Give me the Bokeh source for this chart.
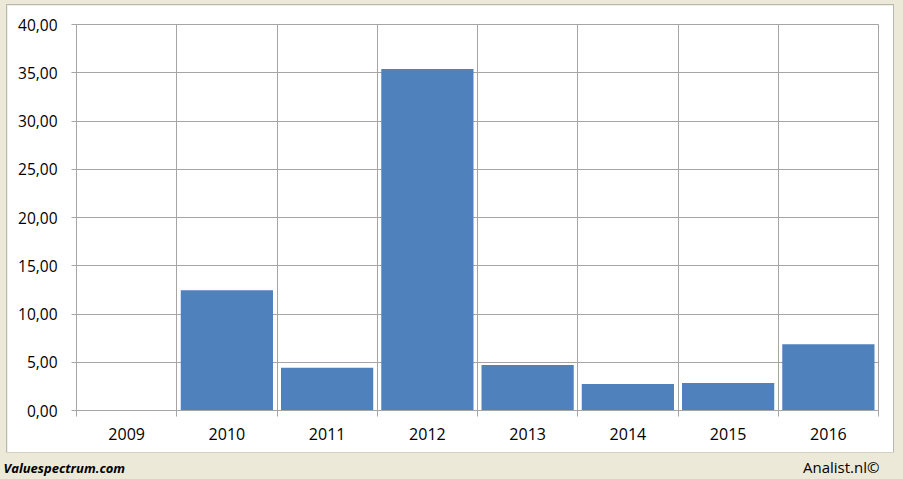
from bokeh.plotting import figure
from bokeh.layouts import column, row
from bokeh.models import FixedTicker, CustomJSTickFormatter, ColumnDataSource, Range1d, Spacer
from bokeh.core.properties import value
from bokeh.embed import file_html
from bokeh.resources import INLINE

years = ["2009", "2010", "2011", "2012", "2013", "2014", "2015", "2016"]
values = [0.0, 12.45, 4.42, 35.4, 4.72, 2.75, 2.85, 6.87]
y_ticks = [0, 5, 10, 15, 20, 25, 30, 35, 40]

BAR = "#4F81BD"
GRID = "#A5A5A5"
BEIGE = "#ECE9D8"
FONT = "Open Sans"

xs = [i + 0.5 for i in range(len(years))]
src = ColumnDataSource(dict(x=xs, top=values, year=years))

p = figure(width=886, height=447, output_backend="svg", toolbar_location=None,
           x_range=Range1d(0, len(years)), y_range=Range1d(0, 40))
p.min_border_left = 69
p.min_border_top = 19
p.min_border_right = 15
p.min_border_bottom = 42
p.border_fill_color = "white"
p.background_fill_color = "white"
p.outline_line_color = GRID
p.styles = {"box-shadow": "0 0 0 1px #B8B8B0"}

p.vbar(x="x", top="top", width=0.92, bottom=0, source=src, fill_color=BAR, line_color=None)

# x axis
xt = FixedTicker(ticks=xs, minor_ticks=list(range(len(years) + 1)))
p.xaxis.ticker = xt
p.xaxis.major_label_overrides = {x: y for x, y in zip(xs, years)}
p.xaxis.major_tick_line_color = None
p.xaxis.major_tick_out = 0
p.xaxis.minor_tick_line_color = GRID
p.xaxis.minor_tick_out = 6
p.xaxis.minor_tick_in = 0
p.xaxis.axis_line_color = GRID
p.xaxis.major_label_text_font = FONT
p.xaxis.major_label_text_font_size = "16px"
p.xaxis.major_label_text_color = "#000000"
p.xaxis.major_label_standoff = 11

# y axis
p.yaxis.ticker = FixedTicker(ticks=y_ticks)
p.yaxis.formatter = CustomJSTickFormatter(code="return tick.toFixed(2).replace('.', ',');")
p.yaxis.major_tick_line_color = GRID
p.yaxis.major_tick_out = 5
p.yaxis.major_tick_in = 0
p.yaxis.minor_tick_line_color = None
p.yaxis.axis_line_color = GRID
p.yaxis.major_label_text_font = FONT
p.yaxis.major_label_text_font_size = "15.5px"
p.yaxis.major_label_text_color = "#000000"
p.yaxis.major_label_standoff = 14

p.xgrid.ticker = FixedTicker(ticks=list(range(len(years) + 1)))
p.ygrid.ticker = FixedTicker(ticks=y_ticks)
p.xgrid.grid_line_color = GRID
p.ygrid.grid_line_color = GRID

# bottom band
b = figure(width=903, height=27, output_backend="svg", toolbar_location=None,
           x_range=Range1d(0, 903), y_range=Range1d(0, 27))
b.min_border = 0
b.axis.visible = False
b.grid.visible = False
b.outline_line_color = None
b.background_fill_color = BEIGE
b.border_fill_color = BEIGE
b.text(x=[3], y=[12], text=["Valuespectrum.com"], text_font=value(FONT),
       text_font_style="bold italic", text_font_size="13px", text_baseline="middle",
       text_align="left", text_color="#000000")
b.text(x=[879], y=[13], text=["Analist.nl©"], text_font=value(FONT),
       text_font_size="15px", text_baseline="middle", text_align="right",
       text_color="#000000")

top_sp = Spacer(width=903, height=5)
left_sp = Spacer(width=7, height=447)
right_sp = Spacer(width=10, height=447)
layout = column(top_sp, row(left_sp, p, right_sp, spacing=0), b, spacing=0,
                styles={"background-color": BEIGE})
open("out.html", "w").write(file_html(layout, INLINE))
